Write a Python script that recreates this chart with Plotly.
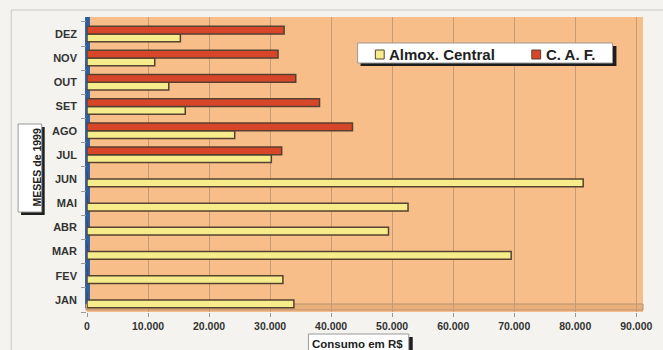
import plotly.graph_objects as go

# Monthly consumption (R$) in 1999
meses = ["JAN", "FEV", "MAR", "ABR", "MAI", "JUN",
         "JUL", "AGO", "SET", "OUT", "NOV", "DEZ"]
almox_central = [33900, 32100, 69500, 49400, 52600, 81300,
                 30200, 24200, 16100, 13400, 11100, 15300]
caf = [0, 0, 0, 0, 0, 0,
       31900, 43500, 38100, 34200, 31300, 32300]

series_names = ["Almox. Central", "C. A. F."]
series_colors = ["#f6ec8c", "#d8462a"]

tick_vals = [0, 10000, 20000, 30000, 40000, 50000, 60000, 70000, 80000, 90000]
tick_text = ["0", "10.000", "20.000", "30.000", "40.000",
             "50.000", "60.000", "70.000", "80.000", "90.000"]

W, H = 663, 350
L, R, T, B = 87, 11, 17, 38
PW, PH = W - L - R, H - T - B


def px(x):
    return (x - L) / PW


def py(y):
    return (H - B - y) / PH


def box(x0, y0, x1, y1, fill, line="rgba(0,0,0,0)", lw=0, layer="above"):
    return dict(type="rect", xref="paper", yref="paper",
                x0=px(x0), x1=px(x1), y0=py(y1), y1=py(y0),
                fillcolor=fill, line=dict(color=line, width=lw), layer=layer)


FONT = "Liberation Sans, Arial, sans-serif"
EDGE = "#55422f"
SHADOW = "#1e1e1e"

fig = go.Figure()
for name, vals, color in zip(series_names, [almox_central, caf], series_colors):
    fig.add_trace(go.Bar(
        y=meses, x=vals, orientation="h", name=name, showlegend=False,
        marker=dict(color=color, line=dict(color=EDGE, width=1.5)),
    ))

shapes = [
    # outer frame of the chart
    dict(type="rect", xref="paper", yref="paper",
         x0=px(10), x1=px(700), y0=py(400), y1=py(10),
         line=dict(color="#c8c8c8", width=1), layer="below"),
    # left side wall and floor
    box(85, 17, 90, 308, "#2f5fa0", layer="below"),
    box(86, 304, 652, 310, "#eab07a", "#b89070", 1, layer="below"),
    # legend box with drop shadow
    box(365, 46, 625, 66, SHADOW),
    box(362, 43, 621, 63, "#ffffff", "#999999", 1),
    box(380, 50, 389, 59, series_colors[0], EDGE, 1),
    box(539, 50, 548, 59, series_colors[1], EDGE, 1),
    # y title box with drop shadow
    box(20, 127, 44, 215, SHADOW),
    box(17, 124, 41, 212, "#ffffff", "#999999", 1),
    # x title box with drop shadow
    box(315, 337, 418, 360, SHADOW),
    box(312, 334, 414, 360, "#ffffff", "#999999", 1),
]

annotations = [
    dict(text="<b>MESES de 1999</b>", xref="paper", yref="paper",
         x=px(28.5), y=py(167), textangle=-90, showarrow=False,
         font=dict(family=FONT, size=10.5, color="#222222")),
    dict(text="<b>Consumo em R$</b>", xref="paper", yref="paper",
         x=px(362), y=py(344), showarrow=False, yanchor="middle",
         font=dict(family=FONT, size=11.5, color="#222222")),
    dict(text="<b>" + series_names[0] + "</b>", xref="paper", yref="paper",
         x=px(392), y=py(55), xanchor="left", yanchor="middle", showarrow=False,
         font=dict(family=FONT, size=15, color="#222222")),
    dict(text="<b>" + series_names[1] + "</b>", xref="paper", yref="paper",
         x=px(551), y=py(55), xanchor="left", yanchor="middle", showarrow=False,
         font=dict(family=FONT, size=15, color="#222222")),
]

fig.update_layout(
    width=W, height=H,
    margin=dict(l=L, r=R, t=T, b=B),
    paper_bgcolor="#f4f3f0",
    plot_bgcolor="#f8be8a",
    barmode="group",
    bargap=0.36,
    bargroupgap=0.0,
    font=dict(family=FONT, color="#333333"),
    shapes=shapes,
    annotations=annotations,
    showlegend=False,
    xaxis=dict(
        range=[0, 91100], tickvals=tick_vals, ticktext=tick_text,
        showgrid=True, gridcolor="#c49c78", gridwidth=1, zeroline=False,
        ticks="outside", ticklen=4, tickcolor="#999999",
        tickfont=dict(family=FONT, size=10.5, color="#333333", weight="bold"),
        showline=False, fixedrange=True,
    ),
    yaxis=dict(
        categoryorder="array", categoryarray=meses,
        range=[-0.5, 11.7], showgrid=False, zeroline=False,
        ticks="outside", tickson="boundaries", ticklen=5, tickcolor="#999999",
        tickfont=dict(family=FONT, size=11, color="#333333", weight="bold"),
        ticklabelstandoff=9, fixedrange=True,
    ),
)

fig.write_html("out.html")
